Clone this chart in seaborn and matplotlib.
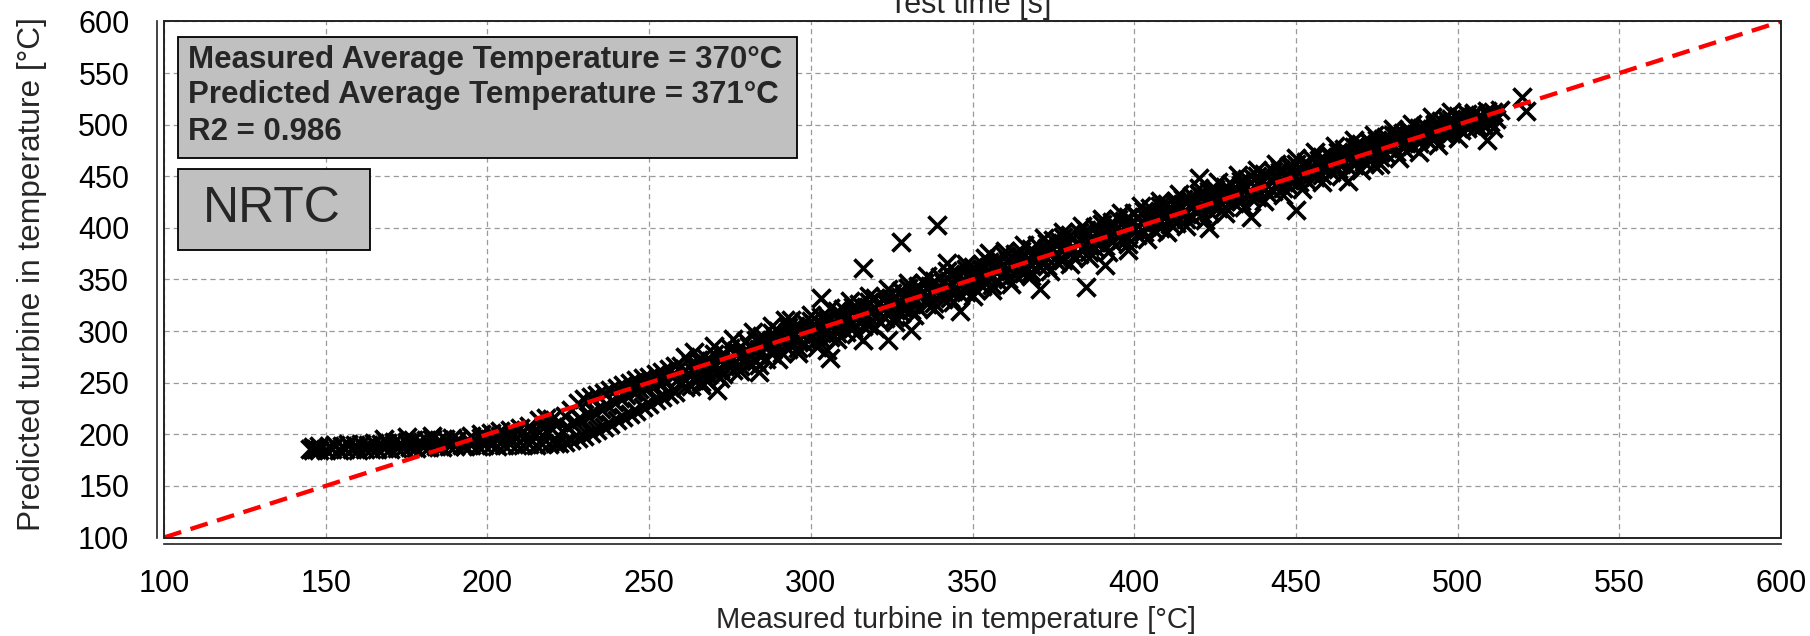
import matplotlib
matplotlib.use("Agg")
import matplotlib.pyplot as plt
from matplotlib.patches import Rectangle
import seaborn as sns
import pandas as pd

# ---------------- data ----------------
flat_points = [  # low-temperature plateau, measured vs predicted
    (145,186),(146,185),(147,186),(148,185),(150,185),(152,186),(154,185),(156,186),(158,186),(160,185),
    (162,186),(164,186),(166,186),(168,187),(170,186),(172,187),(174,187),(176,188),(178,187),(180,188),
    (182,188),(184,189),(186,188),(188,189),(190,189),(192,190),
    (146,188),(148,189),(151,189),(153,190),(155,189),(157,191),(159,190),(161,191),(163,190),(165,192),
    (167,191),(169,192),(171,193),(173,192),(175,193),(177,194),(179,193),(181,194),(183,195),(185,194),
    (187,195),(189,196),(191,195),(168,195),(175,197),(183,198),
    (193,189),(195,190),(197,189),(199,190),(201,190),(203,189),(205,190),(207,191),(209,190),(211,190),
    (213,191),(215,190),(217,191),(219,191),(221,192),
    (194,194),(196,195),(198,196),(200,196),(202,197),(204,198),(206,198),(208,199),(210,200),(212,199),
    (214,201),(216,202),(218,203),(220,205),
    (195,198),(198,200),(201,201),(204,203),(207,204),(210,206),(213,208),(216,214),(218,216),(220,215),
]
rise_points = [  # transition region
    (222,192),(224,193),(226,194),(228,196),(230,198),(232,201),(234,204),(236,207),(238,210),(240,214),
    (242,217),(244,220),(246,223),(248,226),(250,229),(252,233),(254,236),(256,239),
    (223,203),(225,207),(227,212),(229,215),(231,218),(233,222),(235,225),(237,228),(239,231),(241,235),
    (243,238),(245,241),(247,244),(249,246),(251,249),(253,251),(255,253),(257,256),
    (222,212),(224,218),(226,224),(228,230),(230,234),(232,236),(234,238),(236,240),(238,243),(240,245),
    (242,248),(244,250),(246,253),(248,255),(250,256),(252,258),(254,260),(256,263),(258,266),
]
core_low = [
    (258,241),(261,246),(263,247),(266,251),(268,252),(271,257),(273,258),(276,262),(278,266),(281,268),
    (283,271),(286,273),(288,278),(291,279),(293,283),(296,284),(298,288),(301,289),(303,292),(306,294),
    (308,298),(311,299),(313,303),(316,305),(318,306),(321,310),(323,313),(326,314),(328,318),(331,320),
    (333,322),(336,326),(338,327),(341,331),(343,332),(346,336),(348,338),(351,340),(353,344),(356,345),
    (358,349),(361,350),(363,354),(366,356),(368,357),(371,362),(373,363),(376,367),(378,369),(381,372),
    (383,375),(386,377),(388,381),(391,382),(393,386),(396,388),(398,390),(401,393),(403,396),(406,398),
    (408,400),(411,404),(413,405),(416,409),(418,411),(421,413),(423,416),(426,419),(428,420),(431,424),
    (433,426),(436,429),(438,430),(441,434),(443,436),(446,439),(448,441),(451,444),(453,446),(456,449),
    (458,451),(461,454),(463,457),(466,459),(468,461),(471,464),(473,467),(476,469),(478,472),(481,474),
    (483,477),(486,479),(488,482),(491,484),(493,487),(496,490),(498,492),(501,495),(503,497),(506,499),
]
core_fill_low = [
    (260,249),(264,253),(268,258),(272,263),(276,268),(280,273),(284,277),(288,282),(292,286),(296,291),
    (300,294),(304,299),(308,303),(312,306),(316,311),(320,314),(324,319),(328,323),(332,327),(336,331),
    (340,335),(344,339),(348,343),(352,347),(356,352),(360,356),(364,360),(368,364),(372,368),(376,373),
    (380,377),(384,381),(388,386),(392,390),(396,394),(400,398),(404,402),(408,406),(412,410),(416,414),
    (420,418),(424,422),(428,426),(432,430),(436,434),(440,438),(444,442),(448,446),(452,450),(456,454),
    (460,458),(464,462),(468,466),(472,470),(476,474),(480,478),(484,482),(488,486),(492,490),(496,493),
    (500,497),(504,500),
]
core_mid = [
    (259,254),(262,259),(264,260),(267,265),(269,266),(272,271),(274,272),(277,277),(279,278),(282,283),
    (284,283),(287,288),(289,289),(292,292),(294,295),(297,297),(299,300),(302,301),(304,305),(307,307),
    (309,310),(312,311),(314,315),(317,317),(319,320),(322,322),(324,325),(327,327),(329,331),(332,332),
    (334,336),(337,338),(339,341),(342,342),(344,346),(347,348),(349,351),(352,353),(354,356),(357,358),
    (359,362),(362,363),(364,367),(367,369),(369,372),(372,374),(374,378),(377,380),(379,383),(382,385),
    (384,388),(387,390),(389,393),(392,396),(394,398),(397,401),(399,403),(402,406),(404,409),(407,410),
    (409,413),(412,416),(414,418),(417,421),(419,424),(422,425),(424,428),(427,431),(429,433),(432,436),
    (434,438),(437,441),(439,443),(442,446),(444,448),(447,451),(449,453),(452,456),(454,458),(457,461),
    (459,463),(462,466),(464,468),(467,471),(469,473),(472,476),(474,478),(477,481),(479,483),(482,486),
    (484,488),(487,491),(489,493),(492,496),(494,498),(497,501),(499,503),(502,505),(504,507),(507,509),
]
core_fill_up = [
    (261,262),(265,266),(269,271),(273,276),(277,281),(281,286),(285,290),(289,295),(293,299),(297,303),
    (301,307),(305,311),(309,316),(313,319),(317,323),(321,327),(325,331),(329,336),(333,340),(337,344),
    (341,348),(345,352),(349,356),(353,360),(357,365),(361,369),(365,373),(369,377),(373,381),(377,386),
    (381,390),(385,394),(389,398),(393,402),(397,407),(401,411),(405,414),(409,419),(413,423),(417,427),
    (421,431),(425,434),(429,439),(433,442),(437,447),(441,450),(445,454),(449,459),(453,462),(457,466),
    (461,470),(465,474),(469,478),(473,482),(477,486),(481,490),(485,493),(489,497),(493,500),(497,504),
    (501,507),(505,510),
]
core_up = [
    (260,266),(263,268),(265,272),(268,273),(270,278),(273,279),(275,284),(278,285),(280,290),(283,291),
    (285,295),(288,298),(290,300),(293,304),(295,305),(298,309),(300,310),(303,314),(305,315),(308,319),
    (310,321),(313,323),(315,326),(318,328),(320,332),(323,333),(325,337),(328,339),(330,342),(333,344),
    (335,347),(338,349),(340,352),(343,355),(345,357),(348,360),(350,362),(353,365),(355,367),(358,370),
    (360,373),(363,375),(365,378),(368,380),(370,383),(373,385),(375,388),(378,391),(380,393),(383,396),
    (385,398),(388,401),(390,404),(393,406),(395,409),(398,411),(400,414),(403,416),(405,419),(408,421),
    (410,423),(413,426),(415,428),(418,431),(420,433),(423,436),(425,438),(428,440),(430,443),(433,445),
    (435,447),(438,450),(440,452),(443,455),(445,457),(448,460),(450,462),(453,464),(455,467),(458,469),
    (460,471),(463,474),(465,476),(468,478),(470,481),(473,483),(475,485),(478,488),(480,490),(483,492),
    (485,495),(488,497),(490,499),(493,501),(495,504),(498,506),(500,508),(503,510),(505,511),(509,513),
]
outer_up = [
    (264,280),(270,286),(276,292),(282,299),(288,305),(294,311),(300,316),(306,322),(312,329),(318,334),
    (324,341),(330,347),(336,353),(342,358),(348,365),(354,371),(360,378),(366,383),(372,390),(378,396),
    (384,402),(390,409),(396,414),(402,421),(408,426),(414,433),(420,439),(426,444),(432,451),(438,456),
    (444,462),(450,468),(456,474),(462,479),(468,485),(474,490),(480,496),(486,501),(492,507),(498,512),
]
outer_low = [
    (266,248),(272,255),(278,261),(284,267),(290,273),(296,279),(302,285),(308,292),(314,297),(320,303),
    (326,309),(332,316),(338,321),(344,328),(350,334),(356,340),(362,346),(368,353),(374,358),(380,365),
    (386,371),(392,377),(398,384),(404,389),(410,396),(416,402),(422,408),(428,414),(434,420),(440,426),
    (446,432),(452,438),(458,444),(464,450),(470,456),(476,462),(482,468),(488,474),(494,480),(500,487),
]
end_points = [(507,504),(509,509),(511,512),(512,506),(513,514),(508,500),(510,503)]
outlier_points = [
    (261,275),(271,243),(284,260),(292,311),(303,332),(316,361),(328,386),(339,403),(306,274),(305,282),
    (316,291),(324,291),(331,301),(342,366),(346,319),(355,376),(371,341),(385,343),(391,364),(398,379),
    (423,400),(436,411),(450,417),(466,445),(474,461),(420,448),(509,485),(511,497),(520,527),(521,513),
]
identity_line = [100, 600]
x_ticks = [100, 150, 200, 250, 300, 350, 400, 450, 500, 550, 600]
y_ticks = [100, 150, 200, 250, 300, 350, 400, 450, 500, 550, 600]
stats_lines = ["Measured Average Temperature = 370°C",
               "Predicted Average Temperature = 371°C",
               "R2 = 0.986"]
cycle_name = "NRTC"
title_text = "Test time [s]"
x_label = "Measured turbine in temperature [°C]"
y_label = "Predicted turbine in temperature [°C]"

all_points = (flat_points + rise_points + core_low + core_fill_low + core_mid + core_fill_up
              + core_up + outer_up + outer_low + end_points + outlier_points)
df = pd.DataFrame(all_points, columns=["measured", "predicted"])

# ---------------- style ----------------
sns.set_style("white")
plt.rcParams["font.family"] = ["Liberation Sans", "DejaVu Sans"]
plt.rcParams["lines.scale_dashes"] = False

W, H = 1810, 636
fig = plt.figure(figsize=(W / 100, H / 100), dpi=100)
ax = fig.add_axes([164 / W, 1 - 537.5 / H, (1781 - 164) / W, (537.5 - 21.5) / H])

# grid
ax.set_axisbelow(True)
ax.grid(True, color="#9a9a9a", lw=0.9, linestyle=(0, (3.8, 2.8)))

sns.scatterplot(data=df, x="measured", y="predicted", marker="x", color="black",
                s=170, linewidth=2.6, ax=ax, legend=False, zorder=3)
sns.lineplot(x=identity_line, y=identity_line, color="#ff0000", lw=3.1,
             linestyle=(0, (13, 7)), ax=ax, zorder=4)

ax.set_xlim(100, 600)
ax.set_ylim(100, 600)
ax.set_xticks(x_ticks)
ax.set_yticks(y_ticks)
ax.set_xlabel("")
ax.set_ylabel("")

# R-style detached axes + full box
for side in ["top", "right"]:
    ax.spines[side].set_visible(False)
for side in ["left", "bottom"]:
    ax.spines[side].set_position(("outward", 5))
    ax.spines[side].set_color("#222222")
    ax.spines[side].set_linewidth(1.2)
ax.add_patch(Rectangle((0, 0), 1, 1, transform=ax.transAxes, fill=False,
                       edgecolor="#222222", lw=1.4, clip_on=False, zorder=6))
ax.tick_params(axis="both", direction="out", length=11, width=1.1, color="#222222",
               labelsize=22, labelcolor="black")
ax.tick_params(axis="x", pad=7)
ax.tick_params(axis="y", pad=9)

# annotation boxes
ax.add_patch(Rectangle((104.3, 467.7), 295.7 - 104.3, 585 - 467.7, facecolor="#c0c0c0",
                       edgecolor="black", lw=1.3, zorder=7))
for yy, line in zip([562.7, 528.8, 492.9], stats_lines):
    ax.text(107.5, yy, line, fontsize=22.5, fontweight="bold", ha="left", va="center", zorder=8)
ax.add_patch(Rectangle((104.3, 378.5), 163.7 - 104.3, 457 - 378.5, facecolor="#c0c0c0",
                       edgecolor="black", lw=1.3, zorder=7))
ax.text(133.4, 418, cycle_name, fontsize=36, ha="center", va="center", zorder=8)

# titles / labels
fig.text(970 / W, 1 - 13 / H, title_text, fontsize=22, ha="center", va="baseline")
fig.text(956 / W, 1 - 620 / H, x_label, fontsize=21, ha="center", va="center")
fig.text(32 / W, 1 - 274 / H, y_label, fontsize=22.8, ha="center", va="center", rotation=90)

fig.savefig("out.png", dpi=100)
